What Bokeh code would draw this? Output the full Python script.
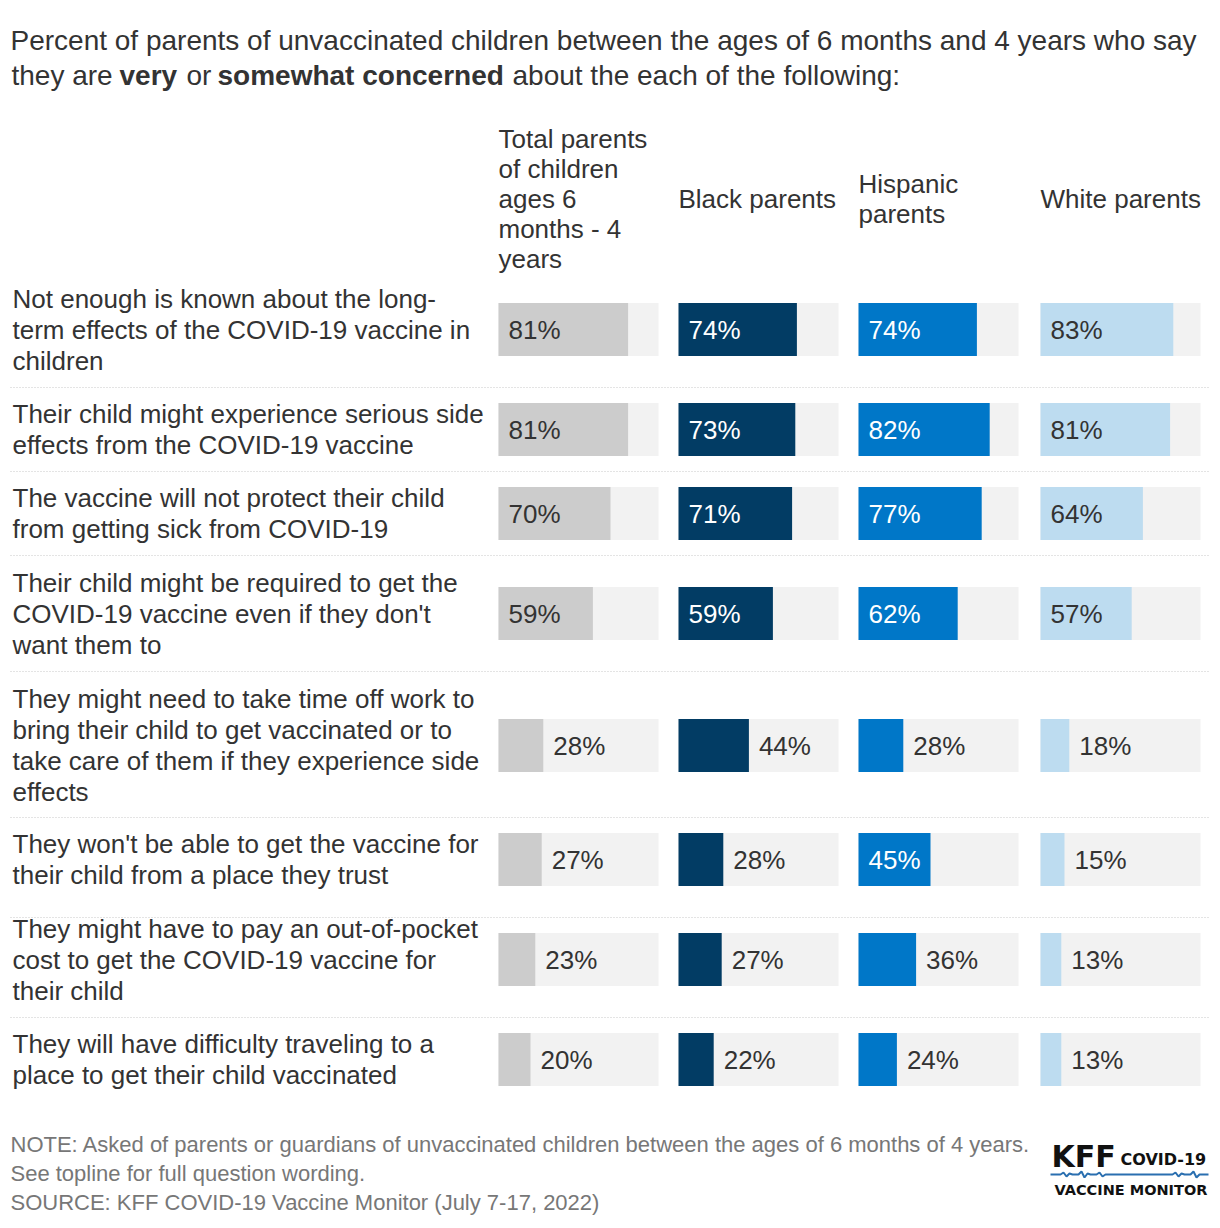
from bokeh.plotting import figure
from bokeh.models import Range1d
from bokeh.embed import file_html
from bokeh.resources import INLINE
from bokeh.core.properties import value

# ---------------- data ----------------
categories = [
    "Not enough is known about the long-\nterm effects of the COVID-19 vaccine in\nchildren",
    "Their child might experience serious side\neffects from the COVID-19 vaccine",
    "The vaccine will not protect their child\nfrom getting sick from COVID-19",
    "Their child might be required to get the\nCOVID-19 vaccine even if they don't\nwant them to",
    "They might need to take time off work to\nbring their child to get vaccinated or to\ntake care of them if they experience side\neffects",
    "They won't be able to get the vaccine for\ntheir child from a place they trust",
    "They might have to pay an out-of-pocket\ncost to get the COVID-19 vaccine for\ntheir child",
    "They will have difficulty traveling to a\nplace to get their child vaccinated",
]
groups = [
    "Total parents\nof children\nages 6\nmonths - 4\nyears",
    "Black parents",
    "Hispanic\nparents",
    "White parents",
]
total_parents = [81, 81, 70, 59, 28, 27, 23, 20]
black_parents = [74, 73, 71, 59, 44, 28, 27, 22]
hispanic_parents = [74, 82, 77, 62, 28, 45, 36, 24]
white_parents = [83, 81, 64, 57, 18, 15, 13, 13]
series = [total_parents, black_parents, hispanic_parents, white_parents]

# ---------------- styles / layout ----------------
FONT = "Liberation Sans"
bar_colors = ["#cccccc", "#023c64", "#0077c8", "#bddcf0"]
label_on_bar = ["#333333", "#ffffff", "#ffffff", "#333333"]
bg_color = "#f2f2f2"
text_color = "#333333"
col_left = [498, 678, 858, 1040]
col_w = 160
row_center = [329, 429, 513, 613, 745, 859, 959, 1059]
separators = [387, 471, 555, 671, 817, 917, 1017]
bar_h = 53
line_h = 31

W, H = 1220, 1228
p = figure(width=W, height=H, output_backend="svg", toolbar_location=None,
           x_range=Range1d(0, W), y_range=Range1d(H, 0),
           min_border=0, outline_line_color=None,
           x_axis_location=None, y_axis_location=None)
p.grid.visible = False
p.background_fill_color = "white"
p.border_fill_color = "white"

def txt(x, y, t, size, color=text_color, style="normal", font=FONT):
    p.text(x=x, y=y, text=t, text_font=value(font), text_font_size=size,
           text_font_style=style, text_color=color, text_baseline="middle", text_align="left")

# title (mixed bold)
txt([10], [40], ["Percent of parents of unvaccinated children between the ages of 6 months and 4 years who say"], "28px")
title2 = [("they are", 11, "normal"), ("very", 119, "bold"), ("or", 186, "normal"),
          ("somewhat concerned", 217, "bold"), ("about the each of the following:", 512, "normal")]
for t, x, st in title2:
    txt([x], [75], [t], "28px", style=st)

# column headers
for k, g in enumerate(groups):
    lines = g.split("\n")
    n = len(lines)
    if k == 0:
        ys = [138 + 30 * i for i in range(n)]
    else:
        ys = [198 + 30 * (i - (n - 1) / 2) for i in range(n)]
    txt([col_left[k]] * n, ys, lines, "26px")

# separators
for s in separators:
    p.segment(x0=[10], x1=[1208], y0=[s], y1=[s], line_color="#c8c8c8",
              line_width=1, line_dash="1 2")

# row labels
for r, cat in enumerate(categories):
    lines = cat.split("\n")
    n = len(lines)
    ys = [row_center[r] + line_h * (i - (n - 1) / 2) for i in range(n)]
    txt([12] * n, ys, lines, "26px")

# bars
for k, vals in enumerate(series):
    left = [col_left[k]] * len(vals)
    p.hbar(y=row_center, left=left, right=[col_left[k] + col_w] * len(vals),
           height=bar_h, fill_color=bg_color, line_color=None)
    rights = [col_left[k] + v * col_w / 100 for v in vals]
    p.hbar(y=row_center, left=left, right=rights, height=bar_h,
           fill_color=bar_colors[k], line_color=None)
    for r, v in enumerate(vals):
        inside = v >= 45
        x = col_left[k] + 10 if inside else rights[r] + 10
        col = label_on_bar[k] if inside else text_color
        txt([x], [row_center[r]], [f"{v}%"], "26px", color=col)

# footer
notes = ["NOTE: Asked of parents or guardians of unvaccinated children between the ages of 6 months of 4 years.",
         "See topline for full question wording.",
         "SOURCE: KFF COVID-19 Vaccine Monitor (July 7-17, 2022)"]
txt([10] * 3, [1144, 1173, 1202], notes, "22px", color="#777777")

# logo
txt([1051], [1156], ["KFF"], "30px", color="#111111", style="bold", font="DejaVu Sans")
txt([1120], [1159], ["COVID-19"], "16px", color="#111111", style="bold", font="DejaVu Sans")
p.line(x=[1050, 1060, 1063, 1066, 1069, 1072, 1078, 1081, 1084, 1087, 1090, 1096, 1099, 1102, 1105, 1160,
          1172, 1175, 1178, 1181, 1184, 1190, 1193, 1196, 1199, 1208],
       y=[1174, 1174, 1172, 1176, 1173, 1174, 1174, 1171, 1177, 1173, 1174, 1174, 1172, 1176, 1174, 1174,
          1174, 1172, 1176, 1173, 1174, 1174, 1171, 1177, 1174, 1174],
       line_color="#2a6fb0", line_width=2)
txt([1054], [1189], ["VACCINE MONITOR"], "14.5px", color="#111111", style="bold", font="DejaVu Sans")

open("out.html", "w").write(file_html(p, INLINE))
